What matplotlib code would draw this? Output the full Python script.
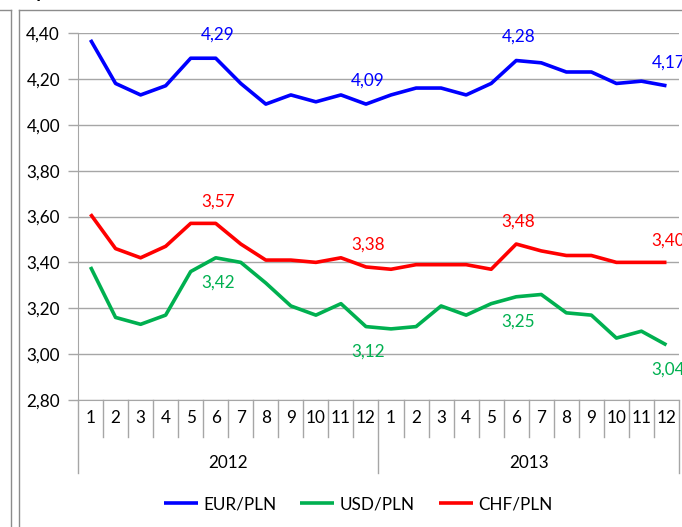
import matplotlib
matplotlib.use("Agg")
import matplotlib.pyplot as plt
from matplotlib.lines import Line2D
import matplotlib.transforms as mtransforms

plt.rcParams['font.family'] = ['Lato', 'DejaVu Sans']

months = [str(m) for m in range(1, 13)] * 2
years = ["2012", "2013"]
eur = [4.37, 4.18, 4.13, 4.17, 4.29, 4.29, 4.18, 4.09, 4.13, 4.10, 4.13, 4.09,
       4.13, 4.16, 4.16, 4.13, 4.18, 4.28, 4.27, 4.23, 4.23, 4.18, 4.19, 4.17]
usd = [3.38, 3.16, 3.13, 3.17, 3.36, 3.42, 3.40, 3.31, 3.21, 3.17, 3.22, 3.12,
       3.11, 3.12, 3.21, 3.17, 3.22, 3.25, 3.26, 3.18, 3.17, 3.07, 3.10, 3.04]
chf = [3.61, 3.46, 3.42, 3.47, 3.57, 3.57, 3.48, 3.41, 3.41, 3.40, 3.42, 3.38,
       3.37, 3.39, 3.39, 3.39, 3.37, 3.48, 3.45, 3.43, 3.43, 3.40, 3.40, 3.40]
labelled = [5, 11, 17, 23]
series_names = ["EUR/PLN", "USD/PLN", "CHF/PLN"]
yticks = [2.80, 3.00, 3.20, 3.40, 3.60, 3.80, 4.00, 4.20, 4.40]

W, H = 682, 527
fig = plt.figure(figsize=(W / 100, H / 100), dpi=100)
ax = fig.add_axes([78 / W, 1 - 400 / H, (679 - 78) / W, (400 - 33) / H])

colors = {"EUR/PLN": "#0000FF", "USD/PLN": "#00B050", "CHF/PLN": "#FF0000"}
data = {"EUR/PLN": eur, "USD/PLN": usd, "CHF/PLN": chf}
x = list(range(len(months)))
FS = 12.3
grid_c = "#A6A6A6"

for name in series_names:
    ax.plot(x, data[name], color=colors[name], lw=2.6, solid_joinstyle='round',
            solid_capstyle='butt', label=name, zorder=3)

offsets = {"EUR/PLN": 17, "CHF/PLN": 16, "USD/PLN": -18}
for name in series_names:
    for i in labelled:
        v = data[name][i]
        ax.annotate(f"{v:.2f}".replace(".", ","), (x[i], v),
                    xytext=(1.5, offsets[name]), textcoords='offset points',
                    ha='center', va='center', color=colors[name], fontsize=FS,
                    annotation_clip=False, zorder=4)

ax.set_xlim(-0.5, len(months) - 0.5)
ax.set_ylim(2.80, 4.40)
ax.set_yticks(yticks)
ax.set_yticklabels([f"{t:.2f}".replace(".", ",") for t in yticks], fontsize=FS)
ax.tick_params(axis='y', direction='out', length=7, width=1, color=grid_c, pad=6)
ax.yaxis.grid(True, color=grid_c, lw=1)
ax.set_axisbelow(True)
ax.set_xticks([])
for s in ["top", "right"]:
    ax.spines[s].set_visible(False)
ax.spines["left"].set_color(grid_c)
ax.spines["bottom"].set_color(grid_c)

trans = mtransforms.blended_transform_factory(ax.transData, ax.transAxes)
ph = 400 - 33
for i, m in enumerate(months):
    ax.text(i, -18 / ph, m, transform=trans, ha='center', va='center', fontsize=FS)
for b in range(len(months) + 1):
    xb = b - 0.5
    long = (b % 12 == 0)
    y1 = -(73 if long else 37) / ph
    ax.add_line(Line2D([xb, xb], [0, y1], transform=trans, color=grid_c, lw=1,
                       clip_on=False))
for j, yr in enumerate(years):
    ax.text(j * 12 + 5.5, -63 / ph, yr, transform=trans, ha='center', va='center',
            fontsize=FS)

fig.legend(loc='center', bbox_to_anchor=(358 / W, 1 - 504 / H), ncol=3,
           frameon=False, fontsize=FS, handlelength=2.0, handletextpad=0.3,
           columnspacing=1.4)

# outer frames (cropped chart borders)
border_c = "#8C8C8C"
fig.add_artist(Line2D([11 / W, 11 / W], [0, 1 - 10 / H], color=border_c, lw=1))
fig.add_artist(Line2D([0, 11 / W], [1 - 10 / H, 1 - 10 / H], color=border_c, lw=1))
fig.add_artist(Line2D([19 / W, 19 / W], [0, 1 - 10 / H], color=border_c, lw=1))
fig.add_artist(Line2D([19 / W, 1], [1 - 10 / H, 1 - 10 / H], color=border_c, lw=1))
fig.text(40 / W, 1 + 2 / H, "y", fontsize=14, fontweight='bold', ha='center',
         va='baseline')

fig.savefig("out.png", dpi=100)
